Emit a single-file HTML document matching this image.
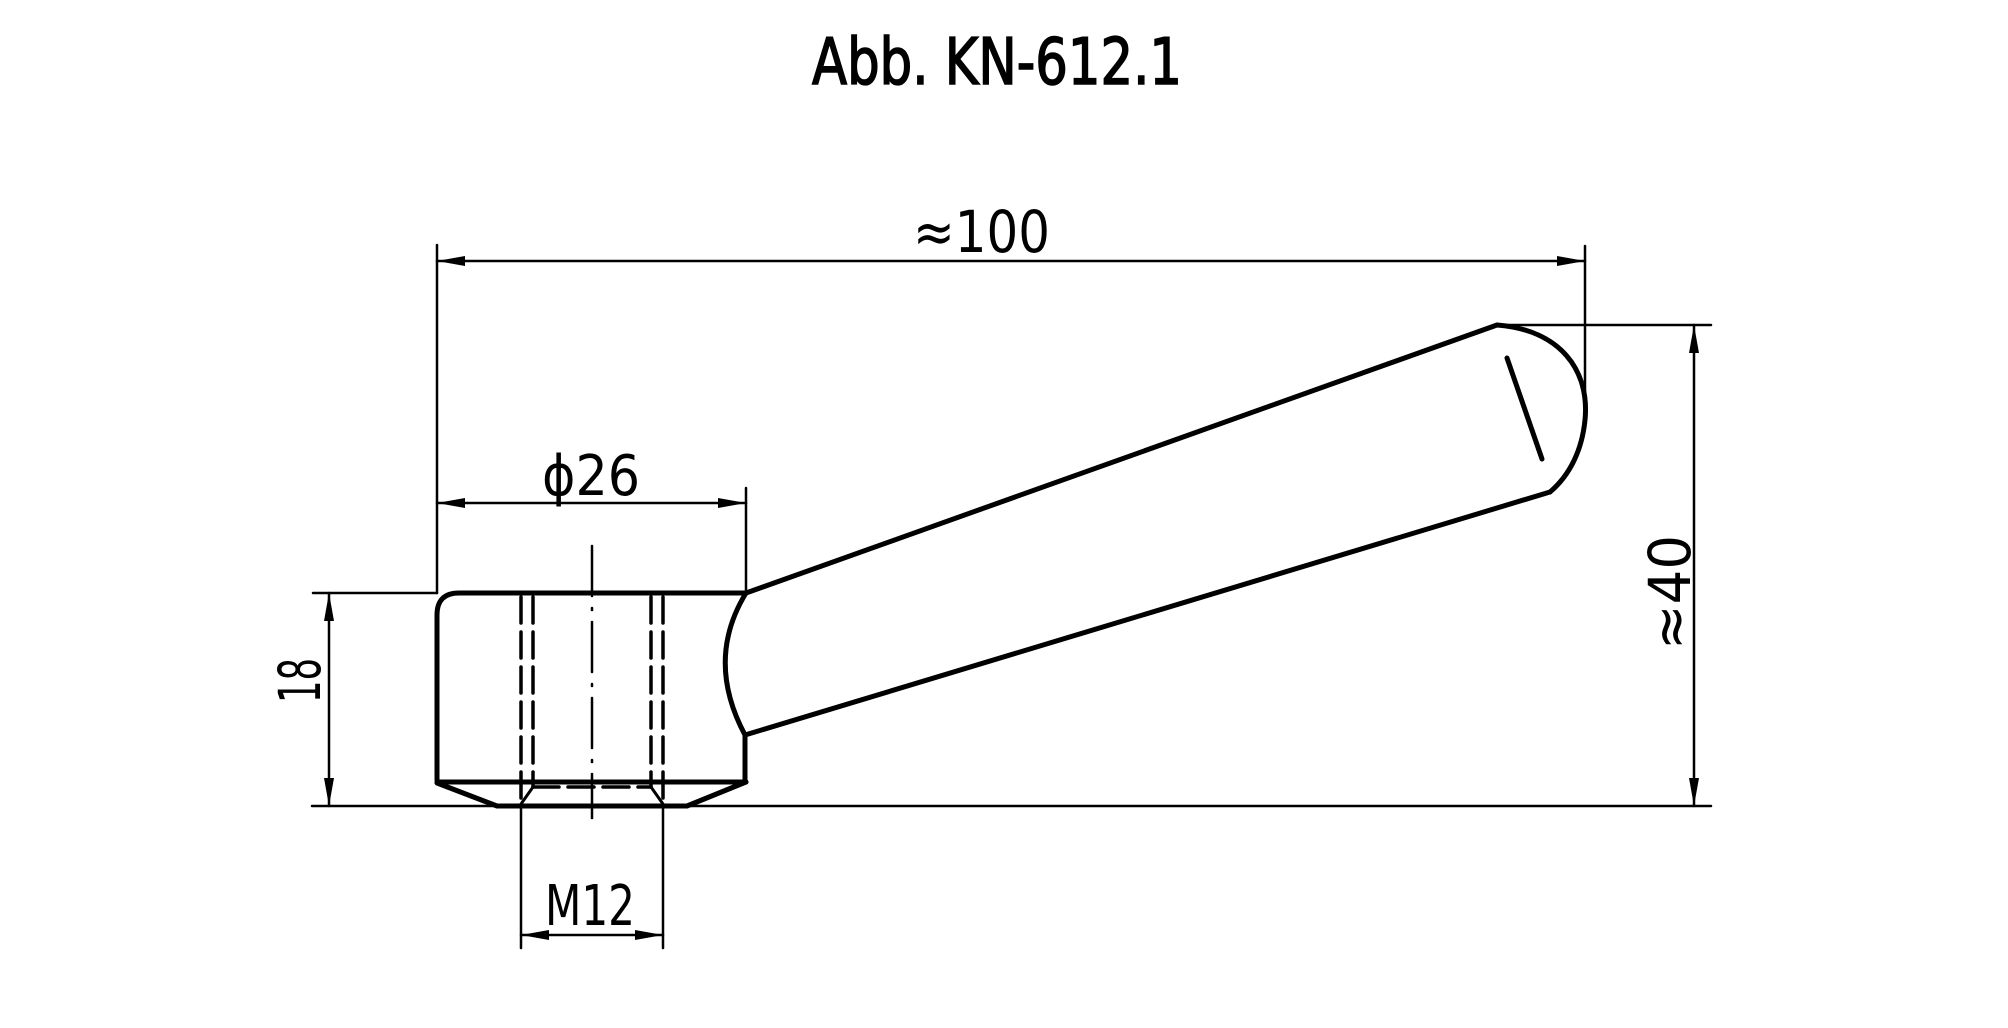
<!DOCTYPE html>
<html><head><meta charset="utf-8"><style>html,body{margin:0;padding:0;background:#fff}svg{display:block}</style></head><body>
<svg width="2008" height="1028" viewBox="0 0 2008 1028" xmlns="http://www.w3.org/2000/svg">
<rect width="2008" height="1028" fill="#fff"/>
<g font-family="Liberation Sans, DejaVu Sans, sans-serif" fill="#000">
<text x="812" y="84" font-size="64" stroke="#000" stroke-width="1.5" textLength="370" lengthAdjust="spacingAndGlyphs" style="font-family:'DejaVu Sans Condensed','DejaVu Sans',sans-serif">Abb. KN-612.1</text>
<text x="913" y="252" font-size="58" textLength="137" lengthAdjust="spacingAndGlyphs" style="font-family:'DejaVu Sans Condensed','DejaVu Sans',sans-serif">≈100</text>
<text x="542" y="495" font-size="56" textLength="98" lengthAdjust="spacingAndGlyphs" style="font-family:'DejaVu Sans Condensed','DejaVu Sans',sans-serif">ϕ26</text>
<text x="545" y="925" font-size="56" textLength="90" lengthAdjust="spacingAndGlyphs" style="font-family:'DejaVu Sans Condensed','DejaVu Sans',sans-serif">M12</text>
<text transform="translate(320,703) rotate(-90)" font-size="58" textLength="45" lengthAdjust="spacingAndGlyphs" style="font-family:'DejaVu Sans Condensed','DejaVu Sans',sans-serif">18</text>
<text transform="translate(1690,650) rotate(-90)" font-size="58" textLength="115" lengthAdjust="spacingAndGlyphs" style="font-family:'DejaVu Sans Condensed','DejaVu Sans',sans-serif">≈40</text>
</g>
<g stroke="#000" fill="none" stroke-linecap="round" stroke-linejoin="round">
<g stroke-width="5">
<path d="M437,780 L437,615 Q437,593 459,593 L746,593"/>
<path d="M746,593 Q705,660 745,735 L745,782"/>
<path d="M437,782 L746,782"/>
<path d="M437,783 L497,806 L687,806 L746,782"/>
<path d="M746,593 L1497,325"/>
<path d="M745,735 L1550,492"/>
<path d="M1497,325 C1560,330 1590,370 1585,420 C1582,450 1570,475 1550,492"/>
<path d="M1507,358 L1542,459"/>
</g>
<g stroke-width="3.5" stroke-dasharray="26,9">
<path d="M521,597 L521,800"/>
<path d="M533,597 L533,787"/>
<path d="M651,597 L651,787"/>
<path d="M663,597 L663,800"/>
<path d="M533,787 L651,787"/>
</g>
<g stroke-width="3">
<path d="M533,787 L521,804"/>
<path d="M651,787 L663,804"/>
</g>
<path d="M592,546 L592,818" stroke-width="2.5" stroke-dasharray="50,12,2,12"/>
<g stroke-width="2.5">
<path d="M437,245 L437,593"/>
<path d="M1585,246 L1585,413"/>
<path d="M437,261 L1585,261"/>
<path d="M1497,325 L1711,325"/>
<path d="M312,806 L1711,806"/>
<path d="M1694,325 L1694,806"/>
<path d="M746,488 L746,593"/>
<path d="M437,503 L746,503"/>
<path d="M313,593 L437,593"/>
<path d="M329,593 L329,806"/>
<path d="M521,806 L521,948"/>
<path d="M663,806 L663,948"/>
<path d="M521,935 L663,935"/>
</g>
</g>
<g fill="#000">
<polygon points="437,261 465,256 465,266"/>
<polygon points="1585,261 1557,256 1557,266"/>
<polygon points="1694,325 1689,353 1699,353"/>
<polygon points="1694,806 1689,778 1699,778"/>
<polygon points="437,503 465,498 465,508"/>
<polygon points="746,503 718,498 718,508"/>
<polygon points="329,593 324,621 334,621"/>
<polygon points="329,806 324,778 334,778"/>
<polygon points="521,935 549,930 549,940"/>
<polygon points="663,935 635,930 635,940"/>
</g>
</svg>
</body></html>
